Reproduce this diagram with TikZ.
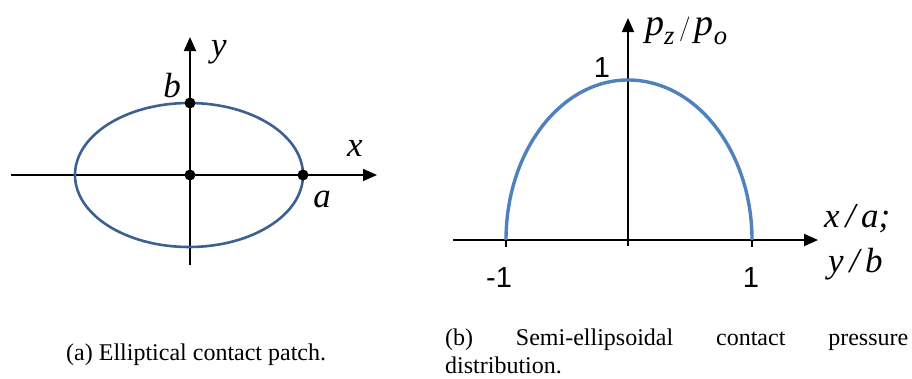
\documentclass[tikz,border=0pt]{standalone}
\usepackage{amsmath}
\usepackage{fontspec}
\setmainfont{Liberation Serif}
\newfontfamily\arialfont{Liberation Sans}
\usetikzlibrary{arrows.meta}
\definecolor{ellblue}{RGB}{60,96,146}
\definecolor{curveblue}{RGB}{79,129,189}
\tikzset{
  axis/.style={line width=1.8pt,-{Triangle[length=14pt,width=12pt]}},
  dot/.style={circle,fill=black,inner sep=0pt,minimum size=11pt},
  lbl/.style={inner sep=0pt,anchor=base,font=\fontsize{35}{38}\selectfont\itshape},
  num/.style={inner sep=0pt,anchor=base,font=\fontsize{29}{31}\selectfont\arialfont},
  captext/.style={inner sep=0pt,anchor=base west,align=left,font=\fontsize{24}{28}\selectfont},
}
\begin{document}
\begin{tikzpicture}[x=1pt,y=-1pt]
\useasboundingbox (0,0) rectangle (912,378);
% ---------- (a) ----------
\coordinate (axL) at (11,175);
\coordinate (axR) at (377,175);
\coordinate (ayB) at (190,265);
\coordinate (ayT) at (190,37);
\draw[axis] (axL) -- (axR);
\draw[axis] (ayB) -- (ayT);
\draw[ellblue,line width=2.6pt] (189,175) ellipse [x radius=114pt,y radius=72pt];
\node[dot] (o) at (190,175) {};
\node[dot] (pb) at (190,103) {};
\node[dot] (pa) at (303,175) {};
\node[lbl] (ly) at (219,56) {y};
\node[lbl] (lb) at (172,97) {b};
\node[lbl] (lx) at (355,156) {x};
\node[lbl] (la) at (322,207) {a};
% ---------- (b) ----------
\coordinate (bxL) at (453,240);
\coordinate (bxR) at (818,240);
\coordinate (byB) at (628,246);
\coordinate (byT) at (628,18);
\draw[axis] (bxL) -- (bxR);
\draw[axis] (byB) -- (byT);
\draw[line width=1pt] (612,80) -- (643,80);
\draw[line width=1.5pt] (506,240) -- (506,247);
\draw[line width=1.5pt] (752,240) -- (752,247);
\draw[curveblue,line width=3.4pt] (506,240) arc[start angle=180,end angle=90,x radius=122pt,y radius=160pt]
  arc[start angle=90,end angle=0,x radius=124pt,y radius=160pt];
\node[num] (n1y) at (602,77) {1};
\node[num] (nm1) at (499,287) {-1};
\node[num] (n1x) at (751,287) {1};
\node[lbl,anchor=base west,font=\fontsize{38}{40}\selectfont\itshape] (lp) at (645,35) {$\textit{p}_{\textit{z}}\,/\,\textit{p}_{\textit{o}}$};
\node[lbl,anchor=base west] (lxa) at (824,227) {x\,/\,a;};
\node[lbl,anchor=base west] (lyb) at (828,272) {y\,/\,b};
% ---------- captions ----------
\node[captext] (capa) at (66,360) {(a) Elliptical contact patch.};
\node[captext] (capb) at (445,373) {\makebox[463pt][s]{(b) Semi-ellipsoidal contact pressure}\\distribution.};
\end{tikzpicture}
\end{document}
